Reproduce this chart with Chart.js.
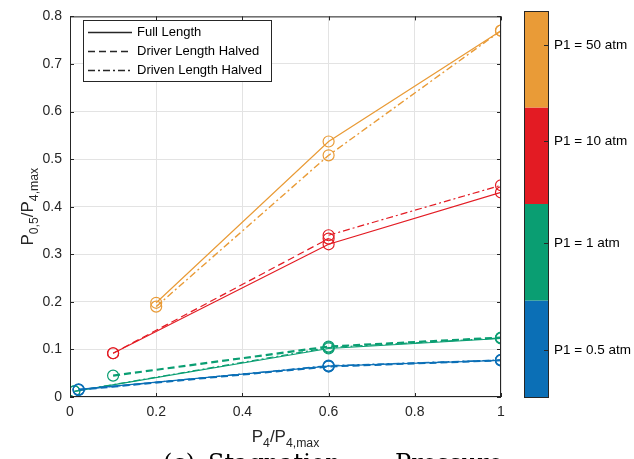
<!DOCTYPE html>
<html>
<head>
<meta charset="utf-8">
<script src="https://cdn.jsdelivr.net/npm/chart.js@4/dist/chart.umd.min.js"></script>
<style>
  html, body { margin: 0; padding: 0; background: #ffffff; }
  #wrap { width: 634px; height: 459px; position: relative; overflow: hidden; }
</style>
</head>
<body>
<div id="wrap"><canvas id="c" width="634" height="459"></canvas></div>
<script>
// Pressure ratio P4/P4,max for each run group
const xP50 = [0.2, 0.6, 1.0];
const xP10 = [0.1, 0.6, 1.0];
const xP1 = [0.01, 0.6, 1.0];
const xP1Driver = [0.1, 0.6, 1.0];
const xP05 = [0.02, 0.6, 1.0];

// P1 = 50 atm
const p50Full = [0.198, 0.537, 0.770];
const p50Driven = [0.190, 0.508, 0.770];

// P1 = 10 atm
const p10Full = [0.092, 0.321, 0.430];
const p10DriverX = [0.1, 0.6];
const p10Driver = [0.092, 0.333];
const p10DrivenX = [0.6, 1.0];
const p10Driven = [0.340, 0.445];

// P1 = 1 atm
const p1Full = [0.012, 0.102, 0.123];
const p1Driver = [0.045, 0.106, 0.125];
const p1Driven = [0.012, 0.104, 0.124];

// P1 = 0.5 atm
const p05Full = [0.016, 0.065, 0.077];
const p05Driver = [0.015, 0.064, 0.077];
const p05Driven = [0.015, 0.066, 0.078];

const caseLabels = ['P1 = 0.5 atm', 'P1 = 1 atm', 'P1 = 10 atm', 'P1 = 50 atm'];
const caseColors = ['#0b6fb6', '#0a9e72', '#e31b23', '#e99b37'];
const legendLabels = ['Full Length', 'Driver Length Halved', 'Driven Length Halved'];
const xTicks = [0, 0.2, 0.4, 0.6, 0.8, 1];
const yTicks = [0, 0.1, 0.2, 0.3, 0.4, 0.5, 0.6, 0.7, 0.8];
// colour-bar tick positions, as fractions of the bar height from the bottom
const barTicks = [0.122, 0.399, 0.663, 0.913];

const DASH = [7, 4];
const DASHDOT = [7, 3, 2, 3];

function pts(xs, ys) { return xs.map((x, i) => ({ x: x, y: ys[i] })); }
function series(xs, ys, color, dash, width) {
  return {
    data: pts(xs, ys),
    showLine: true,
    borderColor: color,
    borderWidth: width || 1.2,
    borderDash: dash || [],
    pointStyle: 'circle',
    pointRadius: 5.5,
    pointBorderWidth: 1.2,
    pointBorderColor: color,
    pointBackgroundColor: 'rgba(0,0,0,0)',
    fill: false,
    tension: 0
  };
}

const [cBlue, cGreen, cRed, cOrange] = caseColors;
const datasets = [
  series(xP05, p05Full, cBlue),
  series(xP05, p05Driver, cBlue, DASH, 2),
  series(xP05, p05Driven, cBlue, DASHDOT),
  series(xP1, p1Full, cGreen),
  series(xP1Driver, p1Driver, cGreen, DASH, 2.2),
  series(xP1, p1Driven, cGreen, DASHDOT),
  series(xP10, p10Full, cRed),
  series(p10DriverX, p10Driver, cRed, DASH),
  series(p10DrivenX, p10Driven, cRed, DASHDOT),
  series(xP50, p50Full, cOrange),
  series(xP50, p50Driven, cOrange, DASHDOT, 1.4)
];

const AX = '#262626';
const FONT = '"Liberation Sans", Arial, Helvetica, sans-serif';

// Subscripted text helper: parts = [[text, isSub], ...]
function drawRich(ctx, parts, size, x, y, align) {
  const subSize = size * 0.72;
  let total = 0;
  parts.forEach(p => {
    ctx.font = (p[1] ? subSize : size) + 'px ' + FONT;
    total += ctx.measureText(p[0]).width;
  });
  let cx = align === 'center' ? x - total / 2 : x;
  ctx.textAlign = 'left';
  ctx.textBaseline = 'alphabetic';
  parts.forEach(p => {
    ctx.font = (p[1] ? subSize : size) + 'px ' + FONT;
    ctx.fillText(p[0], cx, y + (p[1] ? size * 0.3 : 0));
    cx += ctx.measureText(p[0]).width;
  });
}

const decor = {
  id: 'decor',
  afterDraw(chart) {
    const ctx = chart.ctx;
    const a = chart.chartArea;
    const xs = chart.scales.x, ys = chart.scales.y;
    ctx.save();

    // axes box with inward ticks on all four sides
    ctx.strokeStyle = AX;
    ctx.lineWidth = 1;
    ctx.strokeRect(a.left + 0.5, a.top + 0.5, a.right - a.left - 1, a.bottom - a.top - 1);
    ctx.beginPath();
    xTicks.forEach(t => {
      const px = Math.round(xs.getPixelForValue(t)) + 0.5;
      ctx.moveTo(px, a.bottom); ctx.lineTo(px, a.bottom - 4);
      ctx.moveTo(px, a.top); ctx.lineTo(px, a.top + 4);
    });
    yTicks.forEach(t => {
      const py = Math.round(ys.getPixelForValue(t)) + 0.5;
      ctx.moveTo(a.left, py); ctx.lineTo(a.left + 4, py);
      ctx.moveTo(a.right, py); ctx.lineTo(a.right - 4, py);
    });
    ctx.stroke();

    // legend box
    const lx = 83, ly = 20, lw = 188, lh = 61;
    ctx.fillStyle = '#ffffff';
    ctx.fillRect(lx, ly, lw, lh);
    ctx.strokeStyle = AX;
    ctx.strokeRect(lx + 0.5, ly + 0.5, lw, lh);
    const dashes = [[], DASH, DASHDOT];
    legendLabels.forEach((lab, i) => {
      const yy = ly + 12 + i * 19 + 0.5;
      ctx.beginPath();
      ctx.setLineDash(dashes[i]);
      ctx.lineWidth = 1.4;
      ctx.strokeStyle = AX;
      ctx.moveTo(88, yy); ctx.lineTo(132, yy);
      ctx.stroke();
      ctx.setLineDash([]);
      ctx.fillStyle = '#000000';
      ctx.font = '13px ' + FONT;
      ctx.textAlign = 'left';
      ctx.textBaseline = 'middle';
      ctx.fillText(lab, 137, yy);
    });

    // colour bar
    const bx = 524, bw = 24, bTop = 11, bBot = 397;
    const seg = (bBot - bTop) / caseLabels.length;
    caseLabels.forEach((lab, i) => {
      const y0 = bBot - (i + 1) * seg;
      ctx.fillStyle = caseColors[i];
      ctx.fillRect(bx, y0, bw, seg);
    });
    ctx.strokeStyle = AX;
    ctx.lineWidth = 1;
    ctx.strokeRect(bx + 0.5, bTop + 0.5, bw, bBot - bTop);
    caseLabels.forEach((lab, i) => {
      const yc = Math.round(bBot - barTicks[i] * (bBot - bTop)) + 0.5;
      ctx.beginPath();
      ctx.moveTo(bx + bw, yc); ctx.lineTo(bx + bw - 4, yc);
      ctx.stroke();
      ctx.fillStyle = '#000000';
      ctx.font = '13.5px ' + FONT;
      ctx.textAlign = 'left';
      ctx.textBaseline = 'middle';
      ctx.fillText(lab, bx + bw + 6, yc);
    });

    // axis titles
    ctx.fillStyle = AX;
    drawRich(ctx, [['P', false], ['4', true], ['/P', false], ['4,max', true]], 17,
      (a.left + a.right) / 2, 442, 'center');
    ctx.save();
    ctx.translate(33, (a.top + a.bottom) / 2);
    ctx.rotate(-Math.PI / 2);
    drawRich(ctx, [['P', false], ['0,5', true], ['/P', false], ['4,max', true]], 17, 0, 0, 'center');
    ctx.restore();

    // caption beneath the figure
    ctx.fillStyle = '#000000';
    ctx.font = '24px "DejaVu Serif", "Liberation Serif", serif';
    ctx.textAlign = 'left';
    ctx.textBaseline = 'alphabetic';
    ctx.fillText('(c)', 163, 471);
    ctx.fillText('Stagnation', 208, 471);
    ctx.fillText('Pressure', 395, 471);

    ctx.restore();
  }
};

new Chart(document.getElementById('c'), {
  type: 'scatter',
  data: { datasets: datasets },
  options: {
    responsive: false,
    animation: false,
    layout: { padding: { left: 0, right: 133, top: 11, bottom: 0 } },
    plugins: { legend: { display: false }, tooltip: { enabled: false } },
    scales: {
      x: {
        type: 'linear', min: 0, max: 1,
        afterBuildTicks(s) { s.ticks = xTicks.map(v => ({ value: v })); },
        afterFit(s) { s.height = 62; },
        grid: { color: '#e3e3e3', lineWidth: 1, drawTicks: false },
        border: { display: false },
        ticks: {
          padding: 7, color: AX, font: { family: FONT, size: 14 },
          callback: v => (v === 0 ? '0' : v === 1 ? '1' : String(Math.round(v * 10) / 10))
        }
      },
      y: {
        type: 'linear', min: 0, max: 0.8,
        afterBuildTicks(s) { s.ticks = yTicks.map(v => ({ value: v })); },
        afterFit(s) { s.width = 70; },
        grid: { color: '#e3e3e3', lineWidth: 1, drawTicks: false },
        border: { display: false },
        ticks: {
          padding: 8, color: AX, font: { family: FONT, size: 14 },
          callback: v => (v === 0 ? '0' : String(Math.round(v * 10) / 10))
        }
      }
    }
  },
  plugins: [decor]
});
</script>
</body>
</html>
